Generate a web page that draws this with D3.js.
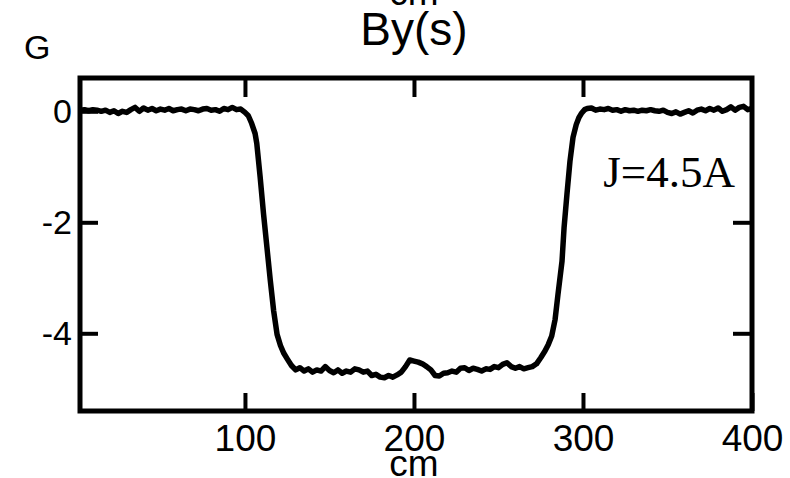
<!DOCTYPE html>
<html>
<head>
<meta charset="utf-8">
<script src="https://cdn.jsdelivr.net/npm/d3@7"></script>
<style>
  body { margin: 0; background: #fff; }
  svg { display: block; }
  text { font-family: "Liberation Sans", Arial, sans-serif; fill: #000; }
</style>
</head>
<body>
<svg id="chart" width="790" height="478"></svg>
<script>

// position along the magnet (cm)
var positionCm = [
  2.5, 5, 7.5, 10, 12.5, 15, 17.5, 20, 22.5, 25, 27.5, 30, 32.5, 35, 37.5, 40,
  42.5, 45, 47.5, 50, 52.5, 55, 57.5, 60, 62.5, 65, 67.5, 70, 72.5, 75, 77.5, 80,
  82.5, 85, 87.5, 90, 92.5, 95, 97.5, 100, 102, 104, 106, 107, 109, 111, 113, 115,
  117, 119, 121, 123, 125, 127.5, 130, 132.5, 135, 137.5, 140, 142.5, 145, 147.5,
  150, 152.5, 155, 157.5, 160, 162.5, 165, 167.5, 170, 172.5, 175, 177.5, 180,
  182.5, 185, 187.5, 190, 192.5, 195, 197.5, 200, 202.5, 205, 207.5, 210, 212.5,
  215, 217.5, 220, 222.5, 225, 227.5, 230, 232.5, 235, 237.5, 240, 242.5, 245,
  247.5, 250, 252.5, 255, 257.5, 260, 262.5, 265, 267.5, 270, 272.5, 275, 277.5,
  279.5, 281.5, 283.5, 285.2, 287.6, 288.8, 290.5, 292.3, 294.1, 296, 297.5, 299,
  301, 302.5, 305, 307.5, 310, 312.5, 315, 317.5, 320, 322.5, 325, 327.5, 330,
  332.5, 335, 337.5, 340, 342.5, 345, 347.5, 350, 352.5, 355, 357.5, 360, 362.5,
  365, 367.5, 370, 372.5, 375, 377.5, 380, 382.5, 385, 387.5, 390, 392.5, 395,
  397.5, 400
];

// By field (G)
var byGauss = [
  0.02, 0.03, 0.01, 0.03, 0.02, 0.0, 0.02, -0.02, 0.01, -0.04, 0.0, -0.02, 0.03, 0.07, 0.0, 0.06,
  0.02, 0.05, 0.01, 0.04, 0.02, 0.05, 0.01, 0.03, 0.04, 0.01, 0.04, 0.03, 0.01, 0.04, 0.05, 0.02,
  0.03, 0.0, 0.05, 0.03, 0.07, 0.03, 0.04, -0.02, -0.08, -0.22, -0.4, -0.58, -1.19, -1.85, -2.45, -3.05,
  -3.6, -4.02, -4.22, -4.36, -4.46, -4.58, -4.66, -4.62, -4.68, -4.64, -4.7, -4.66, -4.68, -4.6,
  -4.67, -4.71, -4.66, -4.72, -4.68, -4.7, -4.64, -4.66, -4.7, -4.68, -4.76, -4.74, -4.79,
  -4.8, -4.76, -4.79, -4.75, -4.7, -4.6, -4.48, -4.5, -4.52, -4.55, -4.6, -4.66, -4.76,
  -4.77, -4.72, -4.71, -4.68, -4.7, -4.63, -4.62, -4.67, -4.63, -4.65, -4.68, -4.64, -4.65,
  -4.6, -4.62, -4.56, -4.53, -4.6, -4.63, -4.6, -4.64, -4.62, -4.6, -4.55, -4.44, -4.32,
  -4.2, -4.05, -3.75, -3.3, -2.7, -2.1, -1.5, -0.9, -0.47, -0.24, -0.12, -0.04,
  0.03, 0.05, 0.06, 0.02, 0.04, 0.03, 0.05, 0.02, 0.03, 0.0, 0.03, 0.01, 0.02,
  0.0, 0.02, 0.01, 0.03, 0.01, 0.0, 0.02, -0.02, -0.04, -0.01, -0.05, -0.02, 0.01,
  -0.03, 0.02, 0.04, 0.01, 0.05, 0.02, 0.06, 0.0, 0.03, 0.08, 0.02, 0.07, 0.09,
  0.03, 0.05
];

var xTicks = [100, 200, 300, 400];
var yTicks = [0, -2, -4];

//frame of the plot in pixels
var frame = { left: 80, right: 752, top: 78, bottom: 411 };

var svg = d3.select("#chart");

var x = d3.scaleLinear()
    .domain([2.4, 400])
    .range([frame.left, frame.right]);

var y = d3.scaleLinear()
    .domain([-5.4, 0.6])
    .range([frame.bottom, frame.top]);

var data = positionCm.map(function (d, i) {
  return [d, byGauss[i]];
});

svg.append("clipPath")
    .attr("id", "plot-clip")
  .append("rect")
    .attr("x", frame.left)
    .attr("y", frame.top)
    .attr("width", frame.right - frame.left)
    .attr("height", frame.bottom - frame.top);

//the curve
var line = d3.line()
    .x(function (d) { return x(d[0]); })
    .y(function (d) { return y(d[1]); });

svg.append("path")
    .datum(data)
    .attr("clip-path", "url(#plot-clip)")
    .attr("fill", "none")
    .attr("stroke", "#000")
    .attr("stroke-width", 5.5)
    .attr("stroke-linejoin", "round")
    .attr("stroke-linecap", "round")
    .attr("d", line);

//bottom axis: labels + inward ticks
var xAxis = svg.append("g")
    .attr("transform", "translate(0," + frame.bottom + ")")
    .call(d3.axisBottom(x).tickValues(xTicks).tickSizeInner(-18).tickSizeOuter(0).tickPadding(14));
xAxis.selectAll("text").style("font-size", "37px");

//top ticks
svg.append("g")
    .attr("transform", "translate(0," + frame.top + ")")
    .call(d3.axisTop(x).tickValues([100, 200, 300]).tickSizeInner(-19).tickSizeOuter(0).tickFormat(""));

//left axis (plain hyphen for the minus, like the original)
var yAxis = svg.append("g")
    .attr("transform", "translate(" + frame.left + ",0)")
    .call(d3.axisLeft(y).tickValues(yTicks).tickSizeInner(-18).tickSizeOuter(0).tickPadding(8)
      .tickFormat(function (d) { return String(d); }));
yAxis.selectAll("text").style("font-size", "34px");

//right ticks
svg.append("g")
    .attr("transform", "translate(" + frame.right + ",0)")
    .call(d3.axisRight(y).tickValues([-2, -4]).tickSizeInner(-19).tickSizeOuter(0).tickFormat(""));

svg.selectAll(".domain").remove();
svg.selectAll(".tick line")
    .attr("stroke", "#000")
    .attr("stroke-width", 4);
svg.selectAll(".tick text").attr("fill", "#000");

//frame
svg.append("rect")
    .attr("x", frame.left)
    .attr("y", frame.top)
    .attr("width", frame.right - frame.left)
    .attr("height", frame.bottom - frame.top)
    .attr("fill", "none")
    .attr("stroke", "#000")
    .attr("stroke-width", 5);

//labels
svg.append("text")
    .attr("x", 414)
    .attr("y", 45)
    .attr("text-anchor", "middle")
    .style("font-size", "46px")
    .text("By(s)");

svg.append("text")
    .attr("x", 414)
    .attr("y", 5)
    .attr("text-anchor", "middle")
    .style("font-size", "37px")
    .text("cm");

svg.append("text")
    .attr("x", 414)
    .attr("y", 476)
    .attr("text-anchor", "middle")
    .style("font-size", "37px")
    .text("cm");

svg.append("text")
    .attr("x", 24)
    .attr("y", 59)
    .style("font-size", "34px")
    .text("G");

svg.append("text")
    .attr("x", 735)
    .attr("y", 187)
    .attr("text-anchor", "end")
    .style("font-family", "'Liberation Serif', 'Times New Roman', serif")
    .style("font-size", "45px")
    .text("J=4.5A");

</script>
</body>
</html>
